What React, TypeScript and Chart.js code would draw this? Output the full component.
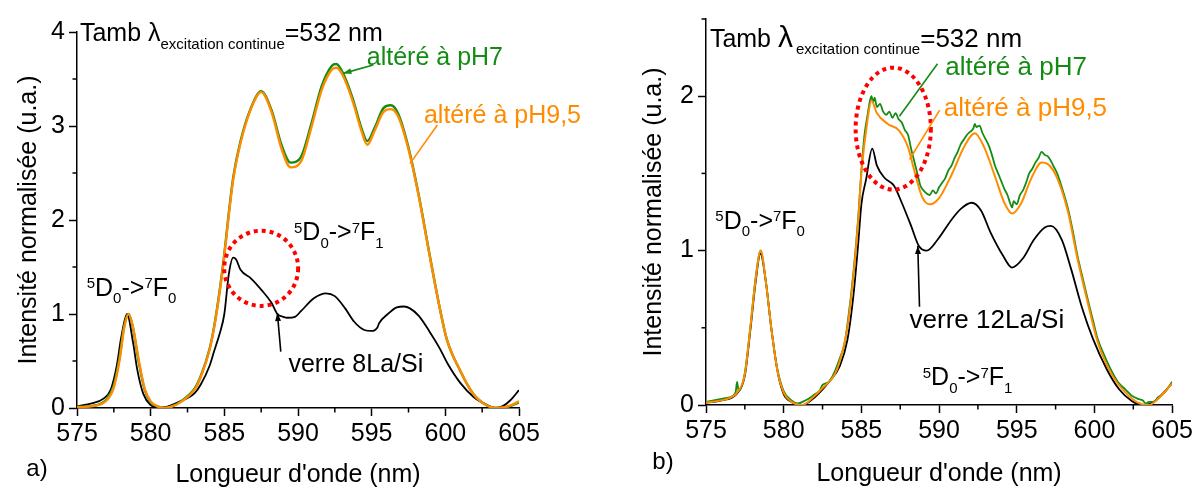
import React, { useEffect, useRef } from 'react';
import { Chart, registerables } from 'chart.js';

Chart.register(...registerables);

const FONT = "'Liberation Sans', Arial, sans-serif";
const GREEN = '#148c14';
const ORANGE = '#ff8c00';
const BLACK = '#000000';

// ---------- Panel a) data ----------
const A_X = [575, 576, 577, 577.5, 577.9, 578.2, 578.5, 578.8, 579.2, 579.6, 580, 580.5, 581, 581.5, 582, 583, 583.4, 584, 584.3, 584.7, 585, 585.3, 585.6, 586.1, 586.8, 587.5, 588.2, 588.9, 589.5, 590.2, 590.9, 591.6, 592.3, 592.6, 593, 593.7, 594.3, 594.7, 595.2, 595.8, 596.3, 596.8, 597.5, 598.2, 598.9, 599.6, 600.1, 601, 601.9, 602.8, 603.5, 604.4, 605];
const A_ORANGE = [0.01, 0.02, 0.08, 0.22, 0.52, 0.85, 1.0, 0.86, 0.5, 0.2, 0.07, 0.015, 0.0, 0.02, 0.06, 0.2, 0.33, 0.62, 0.85, 1.25, 1.62, 2.05, 2.43, 2.82, 3.18, 3.36, 3.15, 2.75, 2.56, 2.62, 2.98, 3.38, 3.6, 3.62, 3.55, 3.27, 2.95, 2.8, 2.95, 3.15, 3.18, 3.1, 2.75, 2.25, 1.65, 1.08, 0.73, 0.4, 0.15, 0.03, 0.0, 0.025, 0.07];
const A_GREEN = [0.01, 0.02, 0.09, 0.24, 0.55, 0.87, 1.0, 0.85, 0.48, 0.19, 0.06, 0.015, 0.0, 0.02, 0.065, 0.21, 0.34, 0.63, 0.86, 1.27, 1.64, 2.07, 2.45, 2.84, 3.19, 3.37, 3.17, 2.79, 2.61, 2.67, 3.02, 3.42, 3.64, 3.66, 3.58, 3.3, 2.98, 2.84, 2.98, 3.19, 3.22, 3.13, 2.77, 2.26, 1.66, 1.08, 0.73, 0.4, 0.15, 0.03, 0.0, 0.02, 0.06];
const A_BLACK_X = [575, 576, 576.8, 577.3, 577.7, 578.0, 578.4, 578.8, 579.1, 579.5, 580, 580.5, 581, 582, 583, 583.4, 584, 584.3, 584.7, 585, 585.3, 585.6, 585.8, 586.1, 586.8, 587.5, 588.2, 588.6, 589.0, 589.3, 589.8, 590.2, 591.1, 591.9, 592.5, 593.2, 593.8, 594.5, 595.0, 595.4, 595.5, 596.1, 596.7, 597.2, 597.6, 598.2, 598.9, 599.6, 600.2, 601, 601.9, 602.8, 603.4, 603.9, 604.4, 605];
const A_BLACK = [0.02, 0.05, 0.1, 0.2, 0.45, 0.75, 1.0, 0.7, 0.4, 0.15, 0.03, 0.005, 0.01, 0.07, 0.16, 0.25, 0.45, 0.6, 0.8, 1.0, 1.42, 1.6, 1.58, 1.47, 1.38, 1.26, 1.12, 1.0, 0.97, 0.96, 0.97, 1.03, 1.17, 1.22, 1.19, 1.06, 0.92, 0.83, 0.82, 0.86, 0.9, 1.0, 1.07, 1.08, 1.06, 0.98, 0.82, 0.64, 0.46, 0.27, 0.12, 0.035, 0.0, 0.02, 0.08, 0.19];

// ---------- Panel b) data ----------
const B_ORANGE_X = [575, 576, 576.5, 577, 577.5, 577.85, 578.2, 578.52, 578.85, 579.2, 579.6, 580, 580.5, 581.2, 582, 582.5, 583.3, 583.6, 584.1, 584.5, 584.8, 585.0, 585.4, 585.65, 586.0, 586.7, 587.4, 588.0, 588.4, 588.9, 589.4, 590.0, 590.8, 591.6, 592.3, 592.9, 593.6, 594.2, 594.7, 595.3, 595.9, 596.6, 597.0, 597.6, 598.3, 598.9, 599.6, 600.2, 601.1, 602.0, 602.8, 603.5, 604.1, 605];
const B_ORANGE = [0.015, 0.03, 0.045, 0.08, 0.2, 0.5, 0.82, 1.0, 0.8, 0.5, 0.22, 0.08, 0.02, 0.0, 0.06, 0.11, 0.2, 0.28, 0.5, 0.85, 1.2, 1.5, 1.85, 1.97, 1.89, 1.82, 1.78, 1.67, 1.52, 1.35, 1.3, 1.34, 1.49, 1.67, 1.76, 1.67, 1.48, 1.31, 1.24, 1.31, 1.46, 1.57, 1.56, 1.47, 1.25, 0.95, 0.65, 0.41, 0.2, 0.08, 0.015, 0.0, 0.04, 0.14];
const B_GREEN_X = [575, 575.5, 576, 576.5, 576.9, 577.0, 577.1, 577.5, 577.85, 578.2, 578.52, 578.85, 579.2, 579.6, 580, 580.5, 580.9, 581.2, 581.6, 582, 582.3, 582.5, 582.9, 583.3, 583.6, 583.9, 584.1, 584.5, 584.8, 585.0, 585.2, 585.4, 585.55, 585.65, 585.75, 585.85, 586.0, 586.2, 586.4, 586.6, 586.8, 587.0, 587.2, 587.4, 587.6, 587.8, 588.0, 588.2, 588.4, 588.6, 588.8, 589.0, 589.2, 589.4, 589.6, 589.8, 590.0, 590.2, 590.4, 590.6, 590.8, 591.0, 591.2, 591.4, 591.6, 591.8, 592.0, 592.2, 592.3, 592.4, 592.6, 592.8, 593.0, 593.2, 593.4, 593.6, 593.8, 594.0, 594.2, 594.4, 594.6, 594.7, 594.8, 595.0, 595.2, 595.4, 595.6, 595.8, 596.0, 596.2, 596.4, 596.6, 596.8, 597.0, 597.2, 597.4, 597.6, 597.9, 598.3, 598.6, 598.9, 599.2, 599.6, 599.9, 600.2, 600.6, 601.1, 601.5, 602.0, 602.4, 602.8, 603.1, 603.3, 603.5, 603.8, 604.1, 604.5, 605];
const B_GREEN = [0.02, 0.03, 0.04, 0.05, 0.08, 0.15, 0.09, 0.21, 0.5, 0.83, 1.0, 0.8, 0.5, 0.23, 0.09, 0.03, 0.01, 0.02, 0.04, 0.07, 0.09, 0.13, 0.15, 0.22, 0.3, 0.39, 0.52, 0.87, 1.22, 1.52, 1.75, 1.88, 1.97, 2.0, 1.96, 1.99, 1.93, 1.95, 1.9, 1.88, 1.9, 1.86, 1.89, 1.85, 1.83, 1.78, 1.75, 1.66, 1.58, 1.5, 1.42, 1.39, 1.37, 1.36, 1.39, 1.37, 1.41, 1.44, 1.47, 1.52, 1.55, 1.6, 1.64, 1.69, 1.72, 1.75, 1.77, 1.79, 1.82, 1.8, 1.81, 1.76, 1.72, 1.68, 1.62, 1.55, 1.5, 1.45, 1.4, 1.36, 1.3, 1.28, 1.32, 1.3, 1.36, 1.39, 1.44, 1.5, 1.53, 1.57, 1.6, 1.64, 1.62, 1.61, 1.58, 1.54, 1.5, 1.41, 1.27, 1.13, 0.97, 0.84, 0.67, 0.55, 0.43, 0.33, 0.22, 0.15, 0.1, 0.06, 0.04, 0.03, 0.01, 0.02, 0.02, 0.05, 0.08, 0.15];
const B_BLACK_X = [575, 576, 577, 577.5, 577.85, 578.2, 578.5, 578.85, 579.2, 579.6, 580, 580.5, 581.2, 582, 583, 583.6, 584.1, 584.5, 584.8, 585.0, 585.3, 585.7, 586.0, 586.5, 587.1, 587.6, 588.2, 588.7, 589.2, 589.9, 590.8, 591.4, 592.1, 592.7, 593.3, 594.1, 594.7, 595.4, 596.1, 596.8, 597.2, 597.9, 598.5, 599.2, 599.9, 600.8, 601.6, 602.4, 603.1, 603.9, 605];
const B_BLACK = [0.015, 0.03, 0.075, 0.19, 0.48, 0.8, 0.98, 0.8, 0.5, 0.22, 0.07, 0.02, 0.0, 0.05, 0.16, 0.25, 0.42, 0.72, 1.05, 1.3, 1.46, 1.66, 1.55, 1.47, 1.42, 1.31, 1.16, 1.03, 1.0, 1.07, 1.2, 1.27, 1.31, 1.26, 1.12, 0.97, 0.89, 0.95, 1.07, 1.15, 1.16, 1.07, 0.88, 0.63, 0.43, 0.23, 0.1, 0.026, 0.0, 0.026, 0.14];

const X_MIN = 575;
const X_MAX = 605;
const A_Y_MAX = 4;
const B_Y_MAX = 2.5;

type Part = { t: string; k?: 'sup' | 'sub'; scale?: number; gap?: number };
const transition = (a: string): Part[] => [
  { t: '5', k: 'sup' }, { t: 'D' }, { t: '0', k: 'sub' }, { t: '->' }, { t: '7', k: 'sup' }, { t: 'F' }, { t: a, k: 'sub' },
];
const tambA: Part[] = [{ t: 'Tamb λ' }, { t: 'excitation continue', k: 'sub' }, { t: '=532 nm' }];
const tambB: Part[] = [{ t: 'Tamb ' }, { t: 'λ', scale: 1.2, gap: 3 }, { t: 'excitation continue', k: 'sub' }, { t: '=532 nm', scale: 1.04 }];

const ANNOT_A = {
  texts: [
    { x: 575.2, y: 4.0, parts: tambA, size: 25, color: BLACK },
    { x: 594.67, y: 3.74, parts: [{ t: 'altéré à pH7' }], size: 25, color: GREEN },
    { x: 598.55, y: 3.13, parts: [{ t: 'altéré à pH9,5' }], size: 25, color: ORANGE },
    { x: 589.73, y: 1.88, parts: transition('1'), size: 25, color: BLACK },
    { x: 575.66, y: 1.29, parts: transition('0'), size: 25, color: BLACK },
    { x: 589.35, y: 0.48, parts: [{ t: 'verre 8La/Si' }], size: 25, color: BLACK },
  ],
  lines: [
    { x1: 595.1, y1: 3.65, x2: 593.08, y2: 3.56, color: GREEN, head: true },
    { x1: 599.46, y1: 3.01, x2: 597.6, y2: 2.6, color: ORANGE, head: false },
    { x1: 588.83, y1: 0.6, x2: 588.6, y2: 1.01, color: BLACK, head: true },
  ],
  ellipses: [{ cx: 587.5, cy: 1.486, rx: 2.51, ry: 0.4 }],
  letter: { t: 'a)', x: 37, y: 469 },
  yTitleX: 29,
  xTitleY: 475,
};

const ANNOT_B = {
  texts: [
    { x: 575.25, y: 2.38, parts: tambB, size: 25, color: BLACK },
    { x: 590.4, y: 2.2, parts: [{ t: 'altéré à pH7' }], size: 26, color: GREEN },
    { x: 590.3, y: 1.93, parts: [{ t: 'altéré à pH9,5' }], size: 26, color: ORANGE },
    { x: 575.6, y: 1.2, parts: transition('0'), size: 25, color: BLACK },
    { x: 588.1, y: 0.56, parts: [{ t: 'verre 12La/Si' }], size: 26, color: BLACK },
    { x: 588.95, y: 0.186, parts: transition('1'), size: 25, color: BLACK },
  ],
  lines: [
    { x1: 589.9, y1: 2.21, x2: 587.45, y2: 1.87, color: GREEN, head: false },
    { x1: 590.04, y1: 1.91, x2: 588.1, y2: 1.59, color: ORANGE, head: false },
    { x1: 588.74, y1: 0.636, x2: 588.63, y2: 1.03, color: BLACK, head: true },
  ],
  ellipses: [{ cx: 587.05, cy: 1.79, rx: 2.42, ry: 0.395 }],
  letter: { t: 'b)', x: 65, y: 462 },
  yTitleX: 56,
  xTitleY: 474,
};

function drawRich(ctx: CanvasRenderingContext2D, x: number, yCenter: number, parts: Part[], size: number, color: string) {
  const base = yCenter + size * 0.36;
  let cx = x;
  ctx.fillStyle = color;
  ctx.textBaseline = 'alphabetic';
  ctx.textAlign = 'left';
  for (const p of parts) {
    const s = p.k ? Math.round(size * 0.61) : Math.round(size * (p.scale || 1));
    ctx.font = `${s}px ${FONT}`;
    const dy = p.k === 'sup' ? -size * 0.3 : p.k === 'sub' ? size * 0.3 : 0;
    ctx.fillText(p.t, cx, base + dy);
    cx += ctx.measureText(p.t).width + (p.gap || 0);
  }
}

const decorPlugin = {
  id: 'decor',
  afterDraw(chart: any, _args: any, opts: any) {
    const a = opts.annot;
    if (!a) return;
    const ctx: CanvasRenderingContext2D = chart.ctx;
    const xs = chart.scales.x;
    const ys = chart.scales.y;
    const area = chart.chartArea;
    ctx.save();
    // minor ticks
    ctx.strokeStyle = BLACK;
    ctx.lineWidth = 1.5;
    for (const t of xs.ticks) {
      if (t.value % 5 !== 0) {
        const px = xs.getPixelForValue(t.value);
        ctx.beginPath();
        ctx.moveTo(px, area.bottom);
        ctx.lineTo(px, area.bottom + 4.5);
        ctx.stroke();
      }
    }
    for (const t of ys.ticks) {
      if (!Number.isInteger(t.value)) {
        const py = ys.getPixelForValue(t.value);
        ctx.beginPath();
        ctx.moveTo(area.left, py);
        ctx.lineTo(area.left - 4.5, py);
        ctx.stroke();
      }
    }
    // ellipses
    for (const e of a.ellipses) {
      const cx = xs.getPixelForValue(e.cx);
      const cy = ys.getPixelForValue(e.cy);
      const rx = Math.abs(xs.getPixelForValue(e.cx + e.rx) - cx);
      const ry = Math.abs(ys.getPixelForValue(e.cy + e.ry) - cy);
      ctx.strokeStyle = '#ff0000';
      ctx.lineWidth = 4;
      ctx.setLineDash([4, 4]);
      ctx.beginPath();
      ctx.ellipse(cx, cy, rx, ry, 0, 0, Math.PI * 2);
      ctx.stroke();
      ctx.setLineDash([]);
    }
    // lines / arrows
    for (const l of a.lines) {
      const x1 = xs.getPixelForValue(l.x1), y1 = ys.getPixelForValue(l.y1);
      const x2 = xs.getPixelForValue(l.x2), y2 = ys.getPixelForValue(l.y2);
      ctx.strokeStyle = l.color;
      ctx.fillStyle = l.color;
      ctx.lineWidth = 1.6;
      ctx.beginPath();
      ctx.moveTo(x1, y1);
      ctx.lineTo(x2, y2);
      ctx.stroke();
      if (l.head) {
        const ang = Math.atan2(y2 - y1, x2 - x1);
        const len = 8, w = 3;
        ctx.beginPath();
        ctx.moveTo(x2, y2);
        ctx.lineTo(x2 - len * Math.cos(ang) + w * Math.sin(ang), y2 - len * Math.sin(ang) - w * Math.cos(ang));
        ctx.lineTo(x2 - len * Math.cos(ang) - w * Math.sin(ang), y2 - len * Math.sin(ang) + w * Math.cos(ang));
        ctx.closePath();
        ctx.fill();
      }
    }
    // texts
    for (const t of a.texts) {
      drawRich(ctx, xs.getPixelForValue(t.x), ys.getPixelForValue(t.y), t.parts, t.size, t.color);
    }
    // axis titles
    ctx.fillStyle = BLACK;
    ctx.font = `25px ${FONT}`;
    ctx.textAlign = 'center';
    ctx.textBaseline = 'middle';
    ctx.fillText("Longueur d'onde (nm)", (area.left + area.right) / 2, a.xTitleY);
    ctx.save();
    ctx.translate(a.yTitleX, (area.top + area.bottom) / 2);
    ctx.rotate(-Math.PI / 2);
    ctx.fillText('Intensité normalisée (u.a.)', 0, 0);
    ctx.restore();
    ctx.font = `24px ${FONT}`;
    ctx.fillText(a.letter.t, a.letter.x, a.letter.y);
    ctx.restore();
  },
};

function pts(xs: number[], ys: number[]) {
  return xs.map((x, i) => ({ x, y: ys[i] }));
}

type PanelProps = {
  left: number;
  width: number;
  height: number;
  datasets: any[];
  yMax: number;
  yAxisWidth: number;
  padRight: number;
  padTop: number;
  xAxisHeight: number;
  annot: any;
};

function Panel(p: PanelProps) {
  const ref = useRef<HTMLCanvasElement>(null);
  useEffect(() => {
    if (!ref.current) return;
    const tickColorX = (c: any) => (c.tick && c.tick.value % 5 === 0 ? BLACK : 'rgba(0,0,0,0)');
    const tickColorY = (c: any) => (c.tick && Number.isInteger(c.tick.value) ? BLACK : 'rgba(0,0,0,0)');
    const chart = new Chart(ref.current, {
      type: 'line',
      data: { datasets: p.datasets },
      plugins: [decorPlugin],
      options: {
        animation: false,
        responsive: false,
        maintainAspectRatio: false,
        layout: { autoPadding: false, padding: { left: 0, right: p.padRight, top: p.padTop, bottom: 0 } },
        elements: { point: { radius: 0 }, line: { cubicInterpolationMode: 'monotone' } },
        plugins: {
          legend: { display: false },
          tooltip: { enabled: false },
          decor: { annot: p.annot },
        } as any,
        scales: {
          x: {
            type: 'linear',
            min: X_MIN,
            max: X_MAX,
            afterFit: (s: any) => { s.height = p.xAxisHeight; },
            border: { display: true, color: BLACK, width: 1.5 },
            grid: { display: true, drawOnChartArea: false, drawTicks: true, tickLength: 8, tickWidth: 1.5, tickColor: tickColorX },
            ticks: {
              stepSize: 2.5,
              autoSkip: false,
              maxRotation: 0,
              padding: 3,
              color: BLACK,
              font: { family: FONT, size: 25 },
              callback: (v: any) => (Number(v) % 5 === 0 ? String(v) : ''),
            },
          },
          y: {
            type: 'linear',
            min: 0,
            max: p.yMax,
            afterFit: (s: any) => { s.width = p.yAxisWidth; },
            border: { display: true, color: BLACK, width: 1.5 },
            grid: { display: true, drawOnChartArea: false, drawTicks: true, tickLength: 8, tickWidth: 1.5, tickColor: tickColorY },
            ticks: {
              stepSize: 0.5,
              autoSkip: false,
              padding: 4,
              color: BLACK,
              font: { family: FONT, size: 25 },
              callback: (v: any) => (Number.isInteger(Number(v)) ? String(v) : ''),
            },
          },
        },
      } as any,
    });
    return () => chart.destroy();
  }, []);
  return (
    <canvas
      ref={ref}
      width={p.width}
      height={p.height}
      style={{ position: 'absolute', left: p.left, top: 0, width: p.width, height: p.height }}
    />
  );
}

export default function App() {
  const dsA = [
    { data: pts(A_X, A_ORANGE), borderColor: ORANGE, borderWidth: 2.4, pointRadius: 0, fill: false },
    { data: pts(A_X, A_GREEN), borderColor: GREEN, borderWidth: 2.4, pointRadius: 0, fill: false },
    { data: pts(A_BLACK_X, A_BLACK), borderColor: BLACK, borderWidth: 1.8, pointRadius: 0, fill: false },
  ];
  const dsB = [
    { data: pts(B_ORANGE_X, B_ORANGE), borderColor: ORANGE, borderWidth: 2, pointRadius: 0, fill: false },
    { data: pts(B_GREEN_X, B_GREEN), borderColor: GREEN, borderWidth: 1.8, pointRadius: 0, fill: false },
    { data: pts(B_BLACK_X, B_BLACK), borderColor: BLACK, borderWidth: 1.8, pointRadius: 0, fill: false },
  ];
  return (
    <div style={{ position: 'absolute', left: 0, top: 0, width: 1196, height: 488, background: '#fff', overflow: 'hidden' }}>
      <Panel left={0} width={598} height={488} datasets={dsA} yMax={A_Y_MAX} yAxisWidth={77} padRight={79} padTop={32} xAxisHeight={80} annot={ANNOT_A} />
      <Panel left={598} width={598} height={488} datasets={dsB} yMax={B_Y_MAX} yAxisWidth={108} padRight={22} padTop={13} xAxisHeight={83} annot={ANNOT_B} />
    </div>
  );
}
